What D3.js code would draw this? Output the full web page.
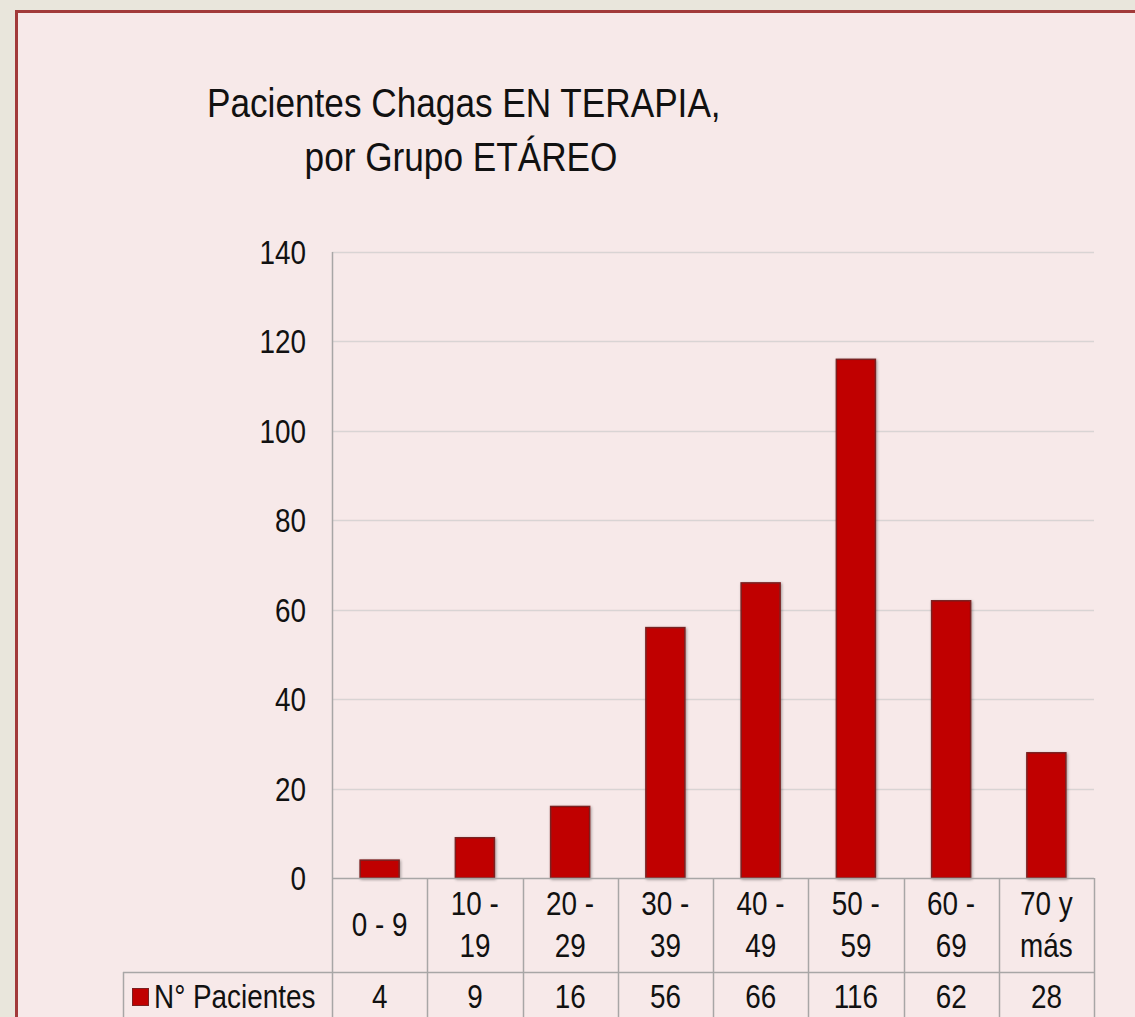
<!DOCTYPE html>
<html>
<head>
<meta charset="utf-8">
<script src="https://cdn.jsdelivr.net/npm/d3@7"></script>
<style>
  html, body { margin: 0; padding: 0; background: #e9e6dc; }
  svg { display: block; }
  text { font-family: "Liberation Sans Narrow", "Arial Narrow", "Liberation Sans", Arial, sans-serif; fill: #111; }
</style>
</head>
<body>
<div id="chart"></div>
<script>
// data
const categories = [["0 - 9"], ["10 -", "19"], ["20 -", "29"], ["30 -", "39"], ["40 -", "49"], ["50 -", "59"], ["60 -", "69"], ["70 y", "más"]];
const values = [4, 9, 16, 56, 66, 116, 62, 28];
const yTicks = [0, 20, 40, 60, 80, 100, 120, 140];
const seriesName = "N° Pacientes";
const titleLines = ["Pacientes Chagas EN TERAPIA,", "por Grupo ETÁREO"];

const W = 1135, H = 1017;
const plot = { left: 332, right: 1094, top: 252, bottom: 878 };
const row1 = 972; // bottom of category row
const narrow = 0.82; // condensed look, no narrow font installed

const svg = d3.select("#chart").append("svg")
    .attr("width", W)
    .attr("height", H);

// draws text squeezed horizontally
function label(x, y, txt, size, anchor, sx) {
    return svg.append("g")
        .attr("transform", `translate(${x},${y}) scale(${sx || narrow},1)`)
        .append("text")
        .attr("text-anchor", anchor || "start")
        .attr("font-size", size)
        .text(txt);
}

// panel
svg.append("rect")
    .attr("x", 16.5).attr("y", 11.5)
    .attr("width", W + 20).attr("height", H + 20)
    .attr("fill", "#f7e9e9")
    .attr("stroke", "#a23a3a")
    .attr("stroke-width", 3);

// title
label(207, 117, titleLines[0], 40, "start", 0.88);
label(461, 171, titleLines[1], 40, "middle", 0.88);

const x = d3.scaleBand()
    .domain(d3.range(categories.length))
    .range([plot.left, plot.right])
    .paddingInner(0).paddingOuter(0);

const y = d3.scaleLinear()
    .domain([0, 140])
    .range([plot.bottom, plot.top]);

// gridlines
svg.append("g")
    .selectAll("line")
    .data(yTicks.filter(d => d > 0))
    .enter()
    .append("line")
    .attr("x1", plot.left).attr("x2", plot.right)
    .attr("y1", d => Math.round(y(d)) + 0.5).attr("y2", d => Math.round(y(d)) + 0.5)
    .attr("stroke", "#d9d4d4")
    .attr("stroke-width", 1.5);

// y axis line
svg.append("line")
    .attr("x1", plot.left + 0.5).attr("x2", plot.left + 0.5)
    .attr("y1", plot.top).attr("y2", H)
    .attr("stroke", "#a8a6a6")
    .attr("stroke-width", 1.5);

// y tick labels
yTicks.forEach(d => label(306, y(d) + 12, d, 34, "end"));

// bar shadow + bars
const barW = 39;
const defs = svg.append("defs");
const f = defs.append("filter").attr("id", "shadow").attr("x", "-20%").attr("y", "-20%").attr("width", "140%").attr("height", "140%");
f.append("feGaussianBlur").attr("in", "SourceAlpha").attr("stdDeviation", 1.5);
f.append("feOffset").attr("dx", 1).attr("dy", 1).attr("result", "b");
f.append("feComponentTransfer").append("feFuncA").attr("type", "linear").attr("slope", 0.35);
const m = f.append("feMerge");
m.append("feMergeNode");
m.append("feMergeNode").attr("in", "SourceGraphic");

svg.append("g")
    .selectAll("rect")
    .data(values)
    .enter()
    .append("rect")
    .attr("x", (d, i) => x(i) + x.bandwidth() / 2 - barW / 2)
    .attr("y", d => y(d))
    .attr("width", barW)
    .attr("height", d => y(0) - y(d))
    .attr("fill", "#c00000")
    .attr("stroke", "#7a2020")
    .attr("stroke-width", 1.5)
    .attr("filter", "url(#shadow)");

// data table
const tbl = svg.append("g").attr("stroke", "#a8a6a6").attr("stroke-width", 1.5).attr("fill", "none");
tbl.append("line").attr("x1", plot.left).attr("x2", plot.right).attr("y1", plot.bottom + 0.5).attr("y2", plot.bottom + 0.5);
tbl.append("line").attr("x1", 123).attr("x2", plot.right).attr("y1", row1 + 0.5).attr("y2", row1 + 0.5);
tbl.append("line").attr("x1", 123.5).attr("x2", 123.5).attr("y1", row1).attr("y2", H);
tbl.selectAll("line.v")
    .data(d3.range(1, categories.length + 1))
    .enter()
    .append("line")
    .attr("x1", i => Math.round(x(i - 1) + x.bandwidth()) + 0.5)
    .attr("x2", i => Math.round(x(i - 1) + x.bandwidth()) + 0.5)
    .attr("y1", plot.bottom).attr("y2", H);

// category labels
categories.forEach((lines, i) => {
    const cx = x(i) + x.bandwidth() / 2;
    if (lines.length === 1) {
        label(cx, 936, lines[0], 34, "middle");
    } else {
        label(cx, 915, lines[0], 34, "middle");
        label(cx, 957, lines[1], 34, "middle");
    }
});

// values row
values.forEach((d, i) => label(x(i) + x.bandwidth() / 2, 1008, d, 34, "middle"));

// legend key
svg.append("rect")
    .attr("x", 132.5).attr("y", 988.5)
    .attr("width", 16).attr("height", 17)
    .attr("fill", "#c00000")
    .attr("stroke", "#7a2020");
label(154, 1008, seriesName, 34, "start");
</script>
</body>
</html>
